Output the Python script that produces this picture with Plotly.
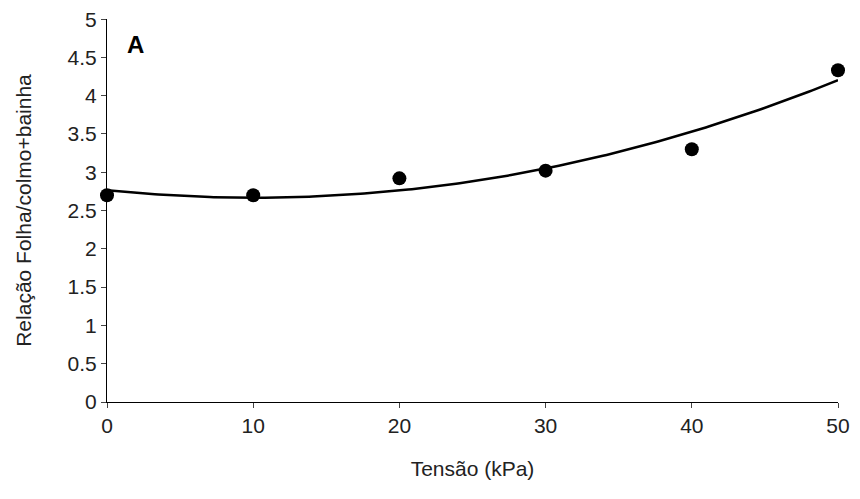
import numpy as np
import plotly.graph_objects as go

tensao = [0, 10, 20, 30, 40, 50]
relacao = [2.70, 2.70, 2.92, 3.02, 3.30, 4.33]
y_ticks = [0, 0.5, 1, 1.5, 2, 2.5, 3, 3.5, 4, 4.5, 5]
y_labels = ['0', '0.5', '1', '1.5', '2', '2.5', '3', '3.5', '4', '4.5', '5']

# linha de tendência polinomial (ordem 2), como no Excel
coef = np.polyfit(tensao, relacao, 2)
xs = np.linspace(0, 50, 200)
ys = np.polyval(coef, xs)

fig = go.Figure()
fig.add_trace(go.Scatter(x=xs, y=ys, mode='lines', line=dict(color='black', width=2.5),
                         showlegend=False, cliponaxis=False))
fig.add_trace(go.Scatter(x=tensao, y=relacao, mode='markers',
                         marker=dict(color='black', size=14), showlegend=False, cliponaxis=False))

fig.add_annotation(text='<b>A</b>', x=0.025, y=0.975, xref='paper', yref='paper',
                   showarrow=False, font=dict(size=24, color='black'))
# o rótulo do topo fica escondido pelo plotly, então é posto à mão
fig.add_annotation(text=y_labels[-1], x=0, y=y_ticks[-1], xref='paper', yref='y',
                   xanchor='right', xshift=-8, showarrow=False,
                   font=dict(size=21, color='#222'))

# a página tem margem de 8px, por isso as margens estão deslocadas
fig.update_layout(
    width=860, height=499, template='simple_white',
    margin=dict(l=99, r=30, t=11, b=105),
    font=dict(family='Liberation Sans, Arial', size=21, color='#222'),
)
fig.update_xaxes(range=[0, 50], tickvals=[0, 10, 20, 30, 40, 50], ticks='outside',
                 tickfont=dict(size=21), linecolor='black', automargin=False,
                 title_text='Tensão (kPa)', title_standoff=25, title_font_size=21)
fig.update_yaxes(range=[0, 5], tickvals=y_ticks, ticktext=y_labels, ticks='outside',
                 linecolor='black', tickfont=dict(size=21), automargin=False,
                 title_text='Relação Folha/colmo+bainha', title_standoff=30, title_font_size=21)

fig.write_html('out.html')
